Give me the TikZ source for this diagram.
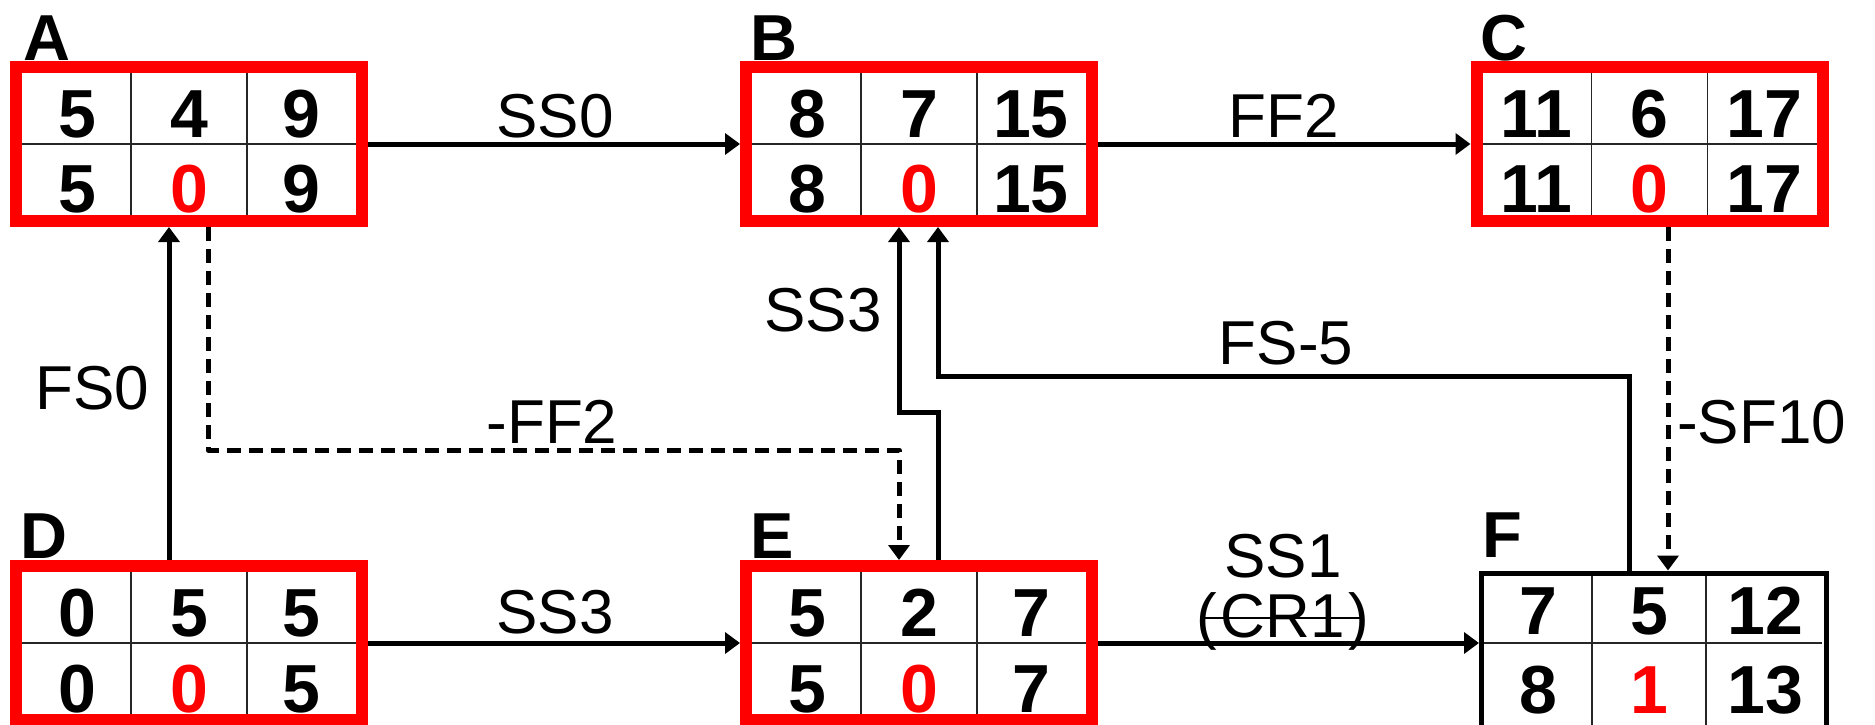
\documentclass[tikz,border=0pt]{standalone}
\usepackage{fontspec}
\setmainfont{Liberation Sans}
\usetikzlibrary{arrows.meta,calc}
\tikzset{
  redbox/.style={draw=red, line width=12pt, minimum width=346pt, minimum height=154pt, inner sep=0pt, fill=white},
  blackbox/.style={draw=black, line width=5pt, minimum width=345pt, minimum height=154pt, inner sep=0pt, fill=white},
  gridline/.style={line width=1.5pt, draw=black!85},
  num/.style={font=\bfseries\fontsize{68}{68}\selectfont, anchor=base, inner sep=0pt},
  rednum/.style={num, text=red},
  boxlbl/.style={font=\bfseries\fontsize{65}{65}\selectfont, anchor=base west, inner sep=0pt},
  lbl/.style={font=\fontsize{62}{62}\selectfont, anchor=base, inner sep=0pt},
  conn/.style={line width=5pt, -{Triangle[length=15pt,width=21pt]}},
  dconn/.style={conn, dash pattern=on 14pt off 8pt, line join=round},
  strike/.style={line width=2pt},
}
\begin{document}
\begin{tikzpicture}[x=1pt,y=-1pt]
\useasboundingbox (0,0) rectangle (1875,725);

% activity boxes
\node[redbox] (A) at (189,144) {};
\node[redbox] (B) at (919,144) {};
\node[redbox] (C) at (1649.5,144) {};
\node[redbox] (D) at (189,643) {};
\node[redbox] (E) at (919,643) {};
\node[blackbox] (F) at (1654,650) {};

\foreach \n in {A,B,C,D,E}{
  \draw[gridline] ($(\n)+(-167,0)$) -- ($(\n)+(167,0)$);
  \draw[gridline] ($(\n)+(-58,-71)$) -- ($(\n)+(-58,71)$);
  \draw[gridline] ($(\n)+(58,-71)$) -- ($(\n)+(58,71)$);
}
\draw[gridline] ($(F)+(-170,-7)$) -- ($(F)+(168,-7)$);
\draw[gridline] ($(F)+(-62,-74)$) -- ($(F)+(-62,80)$);
\draw[gridline] ($(F)+(52,-74)$) -- ($(F)+(52,80)$);

% box letters
\node[boxlbl] (lA) at (23,60) {A};
\node[boxlbl] (lB) at (750,60) {B};
\node[boxlbl] (lC) at (1480,60) {C};
\node[boxlbl] (lD) at (20,558) {D};
\node[boxlbl] (lE) at (750,558) {E};
\node[boxlbl] (lF) at (1482,557) {F};

% numbers A
\node[num] (a1) at (77,137) {5};
\node[num] (a2) at (189,137) {4};
\node[num] (a3) at (301,137) {9};
\node[num] (a4) at (77,212) {5};
\node[rednum] (a5) at (189,212) {0};
\node[num] (a6) at (301,212) {9};
% numbers B
\node[num] (b1) at (807,137) {8};
\node[num] (b2) at (919,137) {7};
\node[num] (b3) at (1031,137) {15};
\node[num] (b4) at (807,212) {8};
\node[rednum] (b5) at (919,212) {0};
\node[num] (b6) at (1031,212) {15};
% numbers C
\node[num] (c1) at (1536,137) {11};
\node[num] (c2) at (1649,137) {6};
\node[num] (c3) at (1764,137) {17};
\node[num] (c4) at (1536,212) {11};
\node[rednum] (c5) at (1649,212) {0};
\node[num] (c6) at (1764,212) {17};
% numbers D
\node[num] (d1) at (77,636) {0};
\node[num] (d2) at (189,636) {5};
\node[num] (d3) at (301,636) {5};
\node[num] (d4) at (77,712) {0};
\node[rednum] (d5) at (189,712) {0};
\node[num] (d6) at (301,712) {5};
% numbers E
\node[num] (e1) at (807,636) {5};
\node[num] (e2) at (919,636) {2};
\node[num] (e3) at (1031,636) {7};
\node[num] (e4) at (807,712) {5};
\node[rednum] (e5) at (919,712) {0};
\node[num] (e6) at (1031,712) {7};
% numbers F
\node[num] (f1) at (1538,634) {7};
\node[num] (f2) at (1649,634) {5};
\node[num] (f3) at (1765,634) {12};
\node[num] (f4) at (1538,713) {8};
\node[rednum] (f5) at (1649,713) {1};
\node[num] (f6) at (1765,713) {13};

% connectors
\draw[conn] (A.east) -- (B.west);
\draw[conn] (B.east) -- (C.west);
\draw[conn] (D.east) -- (E.west);
\draw[conn] (E.east) -- (E.east -| F.west);
\draw[conn] ($(D.north)+(-20,0)$) -- ($(A.south)+(-20,0)$);
\draw[dconn] ($(A.south)+(19,0)$) -- ++(0,223) -| ($(E.north)+(-20,0)$);
\draw[conn] ($(E.north)+(19,0)$) -- ++(0,-148) -| ($(B.south)+(-20,0)$);
\draw[conn] ($(F.north)+(-25,0)$) -- ++(0,-194) -| ($(B.south)+(19,0)$);
\draw[dconn] ($(C.south)+(18.5,0)$) -- ($(F.north)+(14,0)$);

% connector labels
\node[lbl] (tSS0) at (555,137) {SS0};
\node[lbl] (tFF2) at (1284,137) {FF2};
\node[lbl] (tSS3a) at (555,633) {SS3};
\node[lbl] (tSS3b) at (823,331) {SS3};
\node[lbl] (tFS0) at (92,409) {FS0};
\node[lbl] (tFF2n) at (552,443) {-FF2};
\node[lbl] (tFS5) at (1286,364) {FS-5};
\node[lbl, anchor=base west] (tSF10) at (1677,443) {-SF10};
\node[lbl] (tSS1) at (1283,577) {SS1};
\node[lbl] (tCR1) at (1283,637) {(\kern4pt CR1\kern4pt)};
\draw[strike] ($(tCR1.base)+(-78,-19)$) -- ($(tCR1.base)+(79,-19)$);
\end{tikzpicture}
\end{document}
